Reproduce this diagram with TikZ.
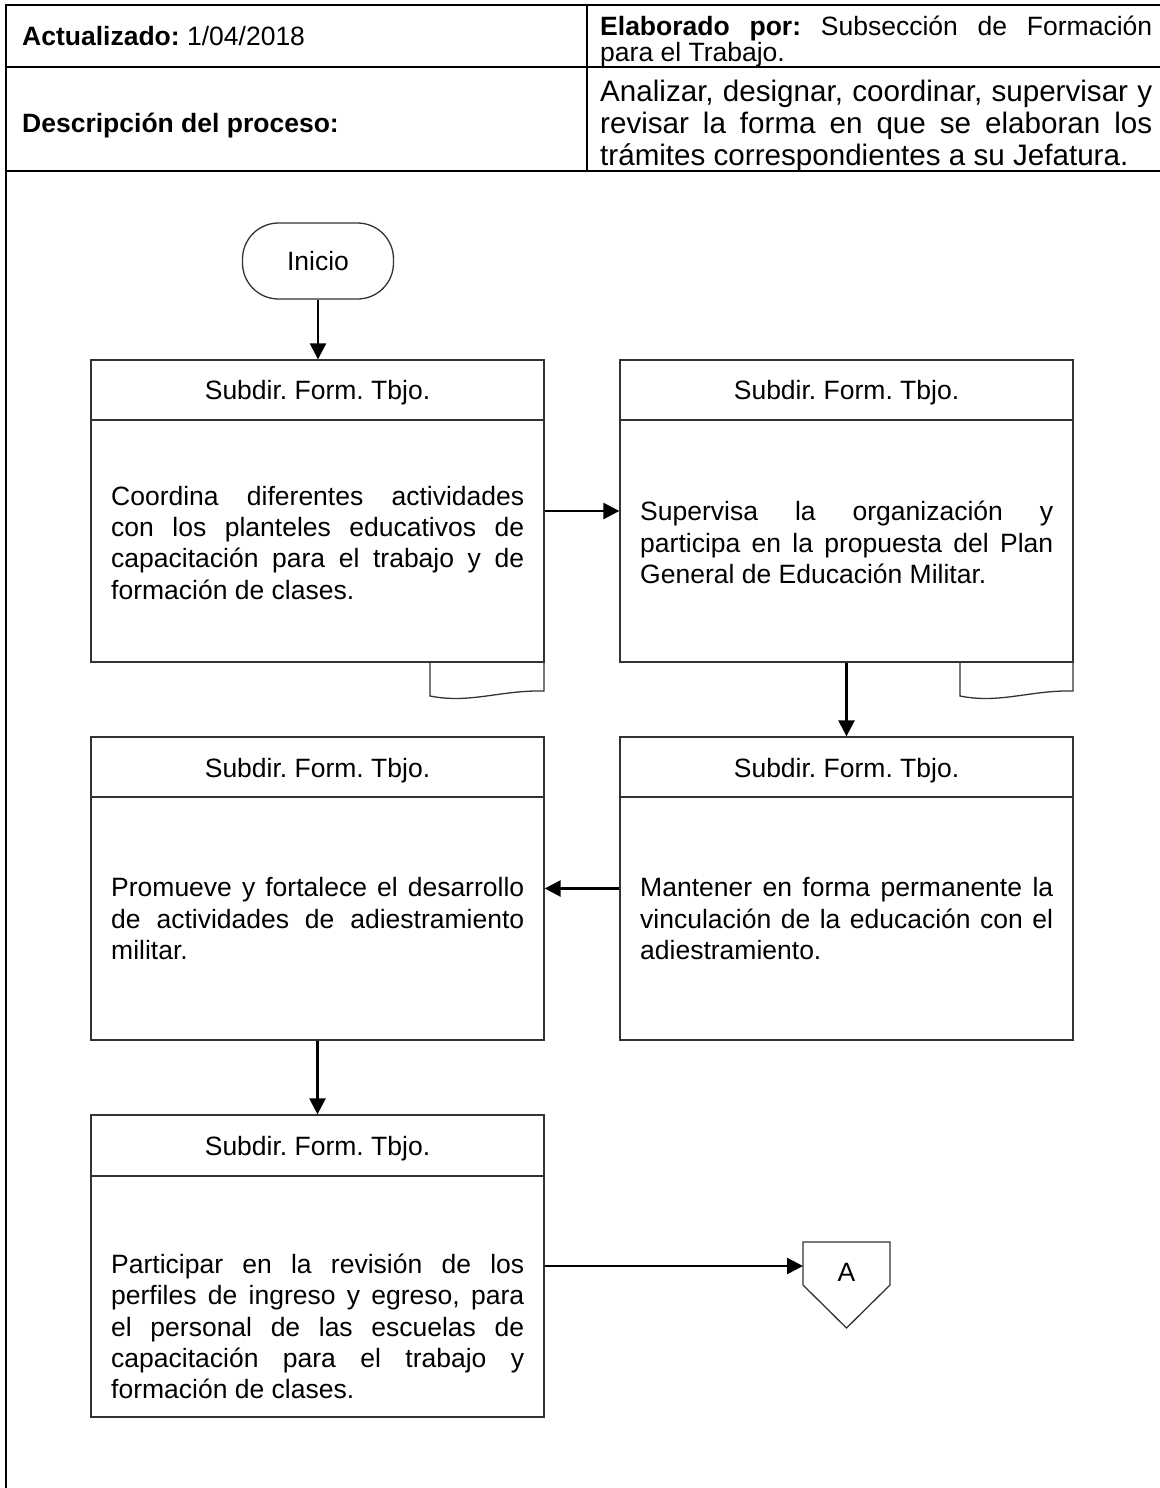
\documentclass[tikz,border=0pt]{standalone}
\usepackage{fontspec}
\setmainfont{Liberation Sans}
\usetikzlibrary{arrows.meta}
\frenchspacing
\tikzset{
 every node/.style={font=\fontsize{26.5}{31}\selectfont\frenchspacing},
 bigfont/.style={font=\fontsize{29.6}{32}\selectfont\frenchspacing},
 fbox/.style={draw=black!80, line width=1.3pt, minimum width=453pt, inner sep=0pt},
 txt/.style={anchor=base west, inner sep=0pt},
 ctxt/.style={anchor=base, inner sep=0pt},
 arr/.style={line width=2.5pt, -{Triangle[length=16pt,width=16pt]}},
 tbl/.style={line width=2pt},
 divl/.style={draw=black!80, line width=1.3pt},
 startbox/.style={draw=black!80, line width=1.3pt, rounded corners=36pt, minimum width=151pt, minimum height=76pt},
}
\newcommand{\jl}[1]{\makebox[413pt][s]{#1}}
\begin{document}
\begin{tikzpicture}[x=1pt,y=-1pt]
\useasboundingbox (0,0) rectangle (1159,1488);
% header table
\draw[tbl] (6,5) -- (1162,5);
\draw[tbl] (6,67) -- (1162,67);
\draw[tbl] (6,171) -- (1162,171);
\draw[tbl] (6,4) -- (6,1492);
\draw[tbl] (587,5) -- (587,171);
\node[txt] (hA) at (22,46) {\textbf{Actualizado:} 1/04/2018};
\node[txt] (hE1) at (600,36) {\makebox[552pt][s]{\textbf{Elaborado por:} Subsección de Formación}};
\node[txt] (hE2) at (600,62) {para el Trabajo.};
\node[txt] (hD) at (22,132) {\textbf{Descripción del proceso:}};
\node[txt, bigfont] (hP1) at (600,101) {\makebox[552pt][s]{Analizar, designar, coordinar, supervisar y}};
\node[txt, bigfont] (hP2) at (600,133) {\makebox[552pt][s]{revisar la forma en que se elaboran los}};
\node[txt, bigfont] (hP3) at (600,165) {trámites correspondientes a su Jefatura.};
% start
\node[startbox] (ini) at (318,261) {Inicio};
% boxes
\node[fbox, minimum height=302pt] (b1) at (317.5,511) {};
\node[fbox, minimum height=302pt] (b2) at (846.5,511) {};
\node[fbox, minimum height=303pt] (b3) at (317.5,888.5) {};
\node[fbox, minimum height=303pt] (b4) at (846.5,888.5) {};
\node[fbox, minimum height=302pt] (b5) at (317.5,1266) {};
\draw[divl] (91,420) -- (544,420);
\draw[divl] (620,420) -- (1073,420);
\draw[divl] (91,797) -- (544,797);
\draw[divl] (620,797) -- (1073,797);
\draw[divl] (91,1176) -- (544,1176);
\node[ctxt] (b1t) at (317.5,399) {Subdir. Form. Tbjo.};
\node[ctxt] (b2t) at (846.5,399) {Subdir. Form. Tbjo.};
\node[ctxt] (b3t) at (317.5,777) {Subdir. Form. Tbjo.};
\node[ctxt] (b4t) at (846.5,777) {Subdir. Form. Tbjo.};
\node[ctxt] (b5t) at (317.5,1155) {Subdir. Form. Tbjo.};
% document tabs
\draw[divl] (430,662) -- (430,696) .. controls (470,704) and (500,690) .. (544,691) -- (544,662);
\draw[divl] (960,662) -- (960,696) .. controls (1000,704) and (1030,690) .. (1073,691) -- (1073,662);
% texts
\node[txt] (t1a) at (111,505) {\jl{Coordina diferentes actividades}};
\node[txt] (t1b) at (111,536) {\jl{con los planteles educativos de}};
\node[txt] (t1c) at (111,567) {\jl{capacitación para el trabajo y de}};
\node[txt] (t1d) at (111,599) {formación de clases.};
\node[txt] (t2a) at (640,520) {\jl{Supervisa la organización y}};
\node[txt] (t2b) at (640,552) {\jl{participa en la propuesta del Plan}};
\node[txt] (t2c) at (640,583) {General de Educación Militar.};
\node[txt] (t3a) at (111,896) {\jl{Promueve y fortalece el desarrollo}};
\node[txt] (t3b) at (111,928) {\jl{de actividades de adiestramiento}};
\node[txt] (t3c) at (111,959) {militar.};
\node[txt] (t4a) at (640,896) {\jl{Mantener en forma permanente la}};
\node[txt] (t4b) at (640,928) {\jl{vinculación de la educación con el}};
\node[txt] (t4c) at (640,959) {adiestramiento.};
\node[txt] (t5a) at (111,1273) {\jl{Participar en la revisión de los}};
\node[txt] (t5b) at (111,1304) {\jl{perfiles de ingreso y egreso, para}};
\node[txt] (t5c) at (111,1336) {\jl{el personal de las escuelas de}};
\node[txt] (t5d) at (111,1367) {\jl{capacitación para el trabajo y}};
\node[txt] (t5e) at (111,1398) {formación de clases.};
% off-page connector A
\draw[divl] (803,1242) -- (890,1242) -- (890,1285) -- (846.5,1328) -- (803,1285) -- cycle;
\node[ctxt] (A) at (846.5,1281) {A};
\coordinate (Aw) at (803,1266);
% arrows
\draw[arr] (ini.south) -- (ini.south |- b1.north);
\draw[arr] (b1.east) -- (b2.west);
\draw[arr] (b2.south) -- (b4.north);
\draw[arr] (b4.west) -- (b3.east);
\draw[arr] (b3.south) -- (b5.north);
\draw[arr] (b5.east) -- (Aw);
\end{tikzpicture}
\end{document}
